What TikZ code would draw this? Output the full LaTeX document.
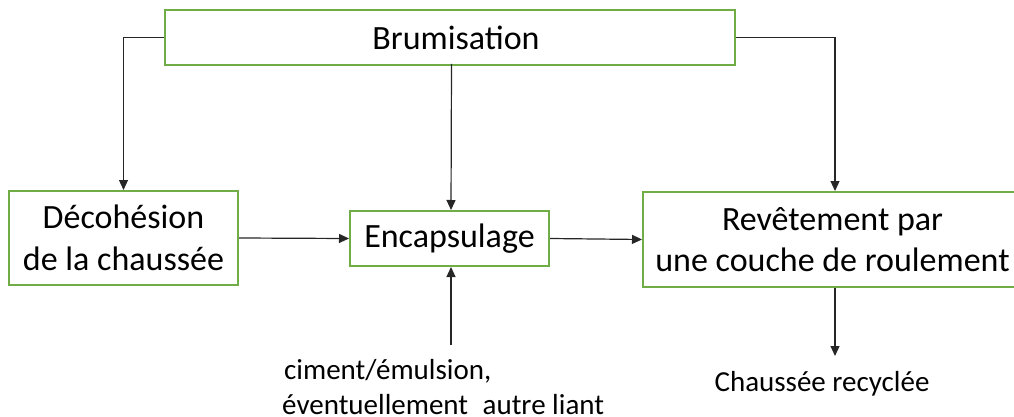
\documentclass[tikz,border=0pt]{standalone}
\usepackage{fontspec}
\setmainfont{Carlito}
\usetikzlibrary{arrows.meta}
\definecolor{boxgreen}{HTML}{70AD47}
\begin{document}
\begin{tikzpicture}[x=1pt,y=-1pt,
  stepbox/.style={draw=boxgreen,line width=2pt,fill=white,inner sep=0pt,
    align=center,font=\fontsize{34}{41.5}\selectfont},
  arr/.style={draw=black!85,line width=1.2pt,-{Triangle[length=10pt,width=9pt]}},
  note/.style={inner sep=0pt,font=\fontsize{29}{35}\selectfont}]
  \useasboundingbox (0,0) rectangle (1014,417);

  % process boxes
  \node[stepbox,minimum width=570pt,minimum height=55pt] (brum) at (450,37.5) {\hspace*{12pt}Brumisation};
  \node[stepbox,minimum width=229pt,minimum height=94pt] (dec) at (123.5,238) {Décohésion\\de la chaussée};
  \node[stepbox,minimum width=199pt,minimum height=55pt] (enc) at (449.5,238.5) {Encapsulage};
  \node[stepbox,minimum width=379pt,minimum height=95pt] (rev) at (832.5,239.5) {Revêtement par\\une couche de roulement};

  % inputs and output
  \node[note,anchor=base west] (liant1) at (284,379) {ciment/émulsion,};
  \node[note,anchor=base west] (liant2) at (282,414) {éventuellement\hspace{8pt} autre liant};
  \node[note,anchor=base] (sortie) at (822,391) {Chaussée recyclée};
  \coordinate (liantTop) at (451,345);
  \coordinate (sortieTop) at (835,356);

  % connectors
  \draw[arr] (brum.west) -| (dec.north);
  \draw[arr] ([xshift=1.5pt,yshift=2pt]brum.south) -- ([xshift=1.5pt]enc.north);
  \draw[arr] (brum.east) -| ([xshift=2.5pt]rev.north);
  \draw[arr] (dec.east) -- (enc.west);
  \draw[arr] (enc.east) -- (rev.west);
  \draw[arr] (liantTop) -- (liantTop |- enc.south);
  \draw[arr] (sortieTop |- rev.south) -- (sortieTop);
\end{tikzpicture}
\end{document}
